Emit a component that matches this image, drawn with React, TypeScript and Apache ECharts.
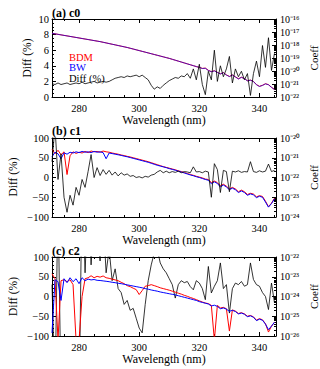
import React, { useEffect, useRef } from "react";
import * as echarts from "echarts";

const FONT = "Liberation Serif";

// Wavelength grid (nm)
const wavelength = [
  271, 272, 273, 274, 275, 276, 277, 278, 279, 280,
  281, 282, 283, 284, 285, 286, 287, 288, 289, 290,
  291, 292, 293, 294, 295, 296, 297, 298, 299, 300,
  301, 302, 303, 304, 305, 306, 307, 308, 309, 310,
  311, 312, 313, 314, 315, 316, 317, 318, 319, 320,
  321, 322, 323, 324, 325, 326, 327, 328, 329, 330,
  331, 332, 333, 334, 335, 336, 337, 338, 339, 340,
  341, 342, 343, 344, 345,
];

const xMajorTicks = [280, 300, 320, 340];
const xMinorTicks = [275, 285, 290, 295, 305, 310, 315, 325, 330, 335, 345];

// Coefficients are given as log10(Coeff)
// Panel (a) c0
const bdmA = [
  -17.10, -17.14, -17.18, -17.22, -17.26, -17.30, -17.34, -17.38, -17.42, -17.46,
  -17.50, -17.54, -17.58, -17.62, -17.66, -17.70, -17.74, -17.79, -17.84, -17.89,
  -17.94, -17.99, -18.04, -18.09, -18.14, -18.19, -18.25, -18.31, -18.37, -18.43,
  -18.49, -18.55, -18.61, -18.67, -18.73, -18.79, -18.85, -18.91, -18.97, -19.03,
  -19.10, -19.17, -19.24, -19.31, -19.38, -19.45, -19.52, -19.59, -19.66, -19.72,
  -19.80, -19.78, -19.95, -20.05, -19.98, -20.10, -20.22, -20.12, -20.30, -20.42,
  -20.30, -20.45, -20.60, -20.48, -20.58, -20.75, -20.70, -20.80, -21.05, -21.18,
  -21.10, -20.98, -21.05, -21.25, -21.42,
];
const bwA = [
  -17.10, -17.14, -17.18, -17.22, -17.26, -17.30, -17.34, -17.38, -17.42, -17.46,
  -17.50, -17.54, -17.58, -17.62, -17.66, -17.70, -17.74, -17.79, -17.84, -17.89,
  -17.94, -17.99, -18.04, -18.09, -18.14, -18.19, -18.25, -18.31, -18.37, -18.43,
  -18.49, -18.55, -18.61, -18.67, -18.73, -18.79, -18.85, -18.91, -18.97, -19.03,
  -19.10, -19.17, -19.24, -19.31, -19.38, -19.45, -19.52, -19.59, -19.66, -19.72,
  -19.81, -19.79, -19.96, -20.06, -19.99, -20.11, -20.23, -20.13, -20.31, -20.43,
  -20.31, -20.46, -20.61, -20.49, -20.59, -20.76, -20.71, -20.81, -21.06, -21.19,
  -21.11, -20.99, -21.06, -21.26, -21.43,
];
const diffA = [
  1.7, 1.6, 1.8, 1.6, 1.7, 1.8, 1.6, 1.7, 1.8, 1.7,
  1.9, 1.7, 1.8, 1.9, 2.0, 1.8, 1.9, 2.0, 1.9, 2.0,
  2.2, 2.4, 2.5, 2.6, 2.5, 2.7, 2.6, 2.7, 2.8, 2.6,
  2.8, 2.5, 2.2, 1.5, 1.0, 1.3, 1.1, 1.5, 1.8, 2.1,
  2.3, 2.5, 2.4, 2.7, 2.6, 3.0, 2.4, 3.6, 2.2, 4.2,
  1.6, 0.3, 3.3, 2.2, 6.0, 2.0, 4.0, 2.6, 3.6, 5.2,
  1.8, 3.6, 2.6, 3.3, 2.2, 3.0, 0.2, 3.0, 4.6, 2.6,
  6.6, 3.8, 7.6, 3.4, 5.6,
];

// Panel (b) c1
const bdmB = [
  -20.56, -20.80, -20.62, -20.85, -20.70, -21.85, -20.90, -20.70, -20.78, -20.72,
  -20.76, -20.68, -20.74, -20.66, -20.70, -20.68, -20.72, -20.66, -20.70, -20.72,
  -20.76, -20.79, -20.82, -20.86, -20.89, -20.93, -20.96, -21.00, -21.04, -21.08,
  -21.12, -21.16, -21.20, -21.25, -21.30, -21.35, -21.40, -21.45, -21.49, -21.53,
  -21.57, -21.61, -21.66, -21.70, -21.75, -21.80, -21.85, -21.89, -21.94, -21.98,
  -22.02, -22.08, -22.10, -22.26, -22.18, -22.26, -22.42, -22.34, -22.44, -22.58,
  -22.50, -22.58, -22.72, -22.64, -22.72, -22.86, -22.80, -22.84, -22.98, -22.92,
  -22.96, -23.20, -23.48, -23.30, -23.05,
];
const bwB = [
  -20.95, -20.72, -20.80, -21.05, -20.75, -20.82, -20.72, -20.76, -20.70, -20.74,
  -20.68, -20.72, -20.70, -20.74, -20.68, -20.72, -20.70, -20.74, -21.05, -20.76,
  -20.79, -20.82, -20.85, -20.88, -20.92, -20.95, -20.99, -21.03, -21.07, -21.11,
  -21.15, -21.19, -21.23, -21.28, -21.33, -21.38, -21.42, -21.46, -21.50, -21.55,
  -21.59, -21.63, -21.68, -21.72, -21.77, -21.82, -21.87, -21.91, -21.96, -22.00,
  -22.05, -22.10, -22.14, -22.32, -22.22, -22.30, -22.48, -22.38, -22.48, -22.62,
  -22.54, -22.62, -22.76, -22.68, -22.76, -22.90, -22.83, -22.88, -23.02, -22.95,
  -23.00, -23.24, -23.50, -23.32, -23.08,
];
const diffB = [
  40, 130, -5, 60, -50, -88, -45, -70, -25, -45,
  -5, -25, 15, 58, 0, 25, 5, 20, 8, 18,
  6, 14, 4, 12, 6, 9, 3, 5, 0, 2,
  -1, 3, 1, 6, 8, 14, 18, 12, 16, 12,
  15, 13, 16, 12, 15, 14, 12, 27, 14, 15,
  12, 16, 14, -50, 35, 20, -38, 18, 15, -36,
  16, 14, 17, 13, 15, 14, 40, 15, 13, 17,
  14, 16, 34, 15, 18,
];

// Panel (c) c2
const bdmC = [
  -22.85, -23.10, -26.20, -23.20, -23.15, -23.25, -23.15, -23.40, -26.20, -26.20,
  -24.00, -23.10, -23.05, -22.95, -23.05, -22.98, -23.02, -22.96, -23.05, -23.08,
  -23.12, -23.16, -23.20, -23.28, -23.35, -23.45, -23.50, -23.58, -23.65, -23.90,
  -23.70, -23.48, -23.45, -23.40, -23.45, -23.50, -23.56, -23.60, -23.64, -23.68,
  -23.73, -23.78, -23.83, -23.88, -23.94, -23.99, -24.05, -24.10, -24.16, -24.22,
  -24.28, -24.33, -24.36, -24.45, -26.20, -24.45, -24.58, -24.55, -24.62, -25.75,
  -24.68, -24.74, -24.86, -24.82, -24.88, -25.00, -24.96, -25.03, -25.20, -25.12,
  -25.18, -25.38, -25.80, -25.50, -25.30,
];
const bwC = [
  -25.85, -23.15, -23.25, -24.20, -23.10, -23.30, -23.05, -23.25, -23.10, -23.35,
  -23.05, -23.20, -23.12, -23.16, -23.14, -23.18, -23.19, -23.21, -23.23, -23.25,
  -23.28, -23.30, -23.33, -23.35, -23.38, -23.41, -23.44, -23.47, -23.50, -23.53,
  -23.56, -23.60, -23.63, -23.67, -23.70, -23.73, -23.77, -23.80, -23.83, -23.86,
  -23.89, -23.92, -23.96, -24.00, -24.04, -24.08, -24.12, -24.16, -24.20, -24.26,
  -24.30, -24.34, -24.38, -24.48, -24.44, -24.50, -24.62, -24.58, -24.64, -24.75,
  -24.70, -24.76, -24.88, -24.84, -24.90, -25.02, -24.98, -25.05, -25.22, -25.15,
  -25.20, -25.40, -25.68, -25.50, -25.30,
];
const diffC = [
  30, -250, 250, -250, -300, -300, -300, -300, -300, -300,
  300, 60, 250, 80, 200, 150, 90, 200, 60, 120,
  40, 70, 20, 10, -20, -10, -35, -30, -55, -80,
  -92, -20, 40, 80, 110, 120, 85, 70, 60, 45,
  30, -4, 30, 40, 35, 38, 25, 17, 40, 34,
  20, -8, 76, 9, 26, 40, 85, 20, 30, -42,
  20, 34, 30, 38, 26, 30, 85, 43, 30, 26,
  10, 0, -33, 34, -16,
];

const panelTitles = ["(a) c0", "(b) c1", "(c) c2"];
const diffRanges = [
  { min: 0, max: 10, interval: 2, minor: 4 },
  { min: -100, max: 100, interval: 50, minor: 5 },
  { min: -100, max: 100, interval: 50, minor: 5 },
];
// decade exponents of the right (Coeff) axis
const coeffDecades = [
  { lo: -22, hi: -16 },
  { lo: -24, hi: -20 },
  { lo: -26, hi: -22 },
];
const legendItems = [
  { text: "BDM", color: "#ff0000" },
  { text: "BW", color: "#0000ff" },
  { text: "Diff (%)", color: "#000000" },
];

const grids = [
  { top: 19, height: 78 },
  { top: 138, height: 79 },
  { top: 257, height: 79 },
];

const SUP: Record<string, string> = {
  "0": "\u2070", "1": "\u00b9", "2": "\u00b2", "3": "\u00b3", "4": "\u2074",
  "5": "\u2075", "6": "\u2076", "7": "\u2077", "8": "\u2078", "9": "\u2079",
};
const supExp = (e: number) =>
  (e < 0 ? "\u207b" : "") + String(Math.abs(e)).split("").map((c) => SUP[c]).join("");

export default function App() {
  const ref = useRef<HTMLDivElement>(null);
  useEffect(() => {
    if (!ref.current) return;
    const chart = echarts.init(ref.current, null, { renderer: "svg" });

    const linePairs = (vals: number[]) => wavelength.map((w, i) => [w, vals[i]]);

    const xAxes: any[] = [];
    const yAxes: any[] = [];
    const series: any[] = [];
    const black = "#000";

    grids.forEach((g, gi) => {
      const baseX = {
        gridIndex: gi,
        type: "value",
        min: 271,
        max: 345.5,
        splitLine: { show: false },
      };
      xAxes.push({
        ...baseX,
        position: "bottom",
        axisLine: { show: true, onZero: false, lineStyle: { color: black, width: 1 } },
        axisTick: { show: true, inside: true, length: 4, customValues: xMajorTicks, lineStyle: { color: black } },
        axisLabel: {
          show: true,
          customValues: xMajorTicks,
          margin: 6,
          color: black,
          fontSize: 10.5,
          fontFamily: FONT,
        },
      });
      xAxes.push({
        ...baseX,
        position: "bottom",
        axisLine: { show: false, onZero: false },
        axisTick: { show: true, inside: true, length: 2, customValues: xMinorTicks, lineStyle: { color: black } },
        axisLabel: { show: false },
      });
      xAxes.push({
        ...baseX,
        position: "top",
        axisLine: { show: true, onZero: false, lineStyle: { color: black, width: 1 } },
        axisTick: { show: true, inside: true, length: 4, customValues: xMajorTicks, lineStyle: { color: black } },
        axisLabel: { show: false },
      });
      xAxes.push({
        ...baseX,
        position: "top",
        axisLine: { show: false, onZero: false },
        axisTick: { show: true, inside: true, length: 2, customValues: xMinorTicks, lineStyle: { color: black } },
        axisLabel: { show: false },
      });

      const dr = diffRanges[gi];
      yAxes.push({
        gridIndex: gi,
        type: "value",
        position: "left",
        min: dr.min,
        max: dr.max,
        interval: dr.interval,
        axisLine: { show: true, onZero: false, lineStyle: { color: black, width: 1 } },
        axisTick: { show: true, inside: true, length: 4, lineStyle: { color: black } },
        minorTick: { show: true, splitNumber: dr.minor, length: 2, lineStyle: { color: black } },
        splitLine: { show: false },
        minorSplitLine: { show: false },
        axisLabel: {
          margin: 3,
          color: black,
          fontSize: 10.5,
          fontFamily: FONT,
          showMinLabel: true,
          showMaxLabel: true,
          formatter: (v: number) => String(v).replace("-", "\u2212"),
        },
      });
      // right axis: decades of Coeff (values are log10 of the coefficient)
      const cd = coeffDecades[gi];
      const minors: number[] = [];
      for (let e = cd.lo; e < cd.hi; e++) {
        for (let m = 2; m <= 9; m++) minors.push(e + Math.log10(m));
      }
      const baseLog = {
        gridIndex: gi,
        type: "value",
        position: "right",
        min: cd.lo,
        max: cd.hi,
        interval: 1,
        splitLine: { show: false },
      };
      yAxes.push({
        ...baseLog,
        axisLine: { show: true, onZero: false, lineStyle: { color: black, width: 1 } },
        axisTick: { show: true, inside: true, length: 4, lineStyle: { color: black } },
        axisLabel: {
          margin: 4,
          color: black,
          fontSize: 10,
          fontFamily: FONT,
          showMinLabel: true,
          showMaxLabel: true,
          formatter: (v: number) => "10" + supExp(Math.round(v)),
        },
      });
      yAxes.push({
        ...baseLog,
        axisLine: { show: false, onZero: false },
        axisTick: { show: true, inside: true, length: 2, customValues: minors, lineStyle: { color: black } },
        axisLabel: { show: false },
      });
    });

    const coeffSets = [
      [bdmA, bwA, diffA],
      [bdmB, bwB, diffB],
      [bdmC, bwC, diffC],
    ];
    coeffSets.forEach(([bdm, bw, diff], gi) => {
      const diffSeries = {
        type: "line",
        name: "Diff (%) " + gi,
        xAxisIndex: gi * 4,
        yAxisIndex: gi * 3,
        data: linePairs(diff),
        showSymbol: false,
        symbol: "none",
        lineStyle: { color: black, width: 0.8 },
        clip: true,
        z: 2,
      };
      if (gi === 2) series.push(diffSeries);
      series.push({
        type: "line",
        name: "BDM " + gi,
        xAxisIndex: gi * 4,
        yAxisIndex: gi * 3 + 1,
        data: linePairs(bdm),
        showSymbol: false,
        symbol: "none",
        lineStyle: { color: "#ff0000", width: 1 },
        clip: true,
        z: 2,
      });
      series.push({
        type: "line",
        name: "BW " + gi,
        xAxisIndex: gi * 4,
        yAxisIndex: gi * 3 + 1,
        data: linePairs(bw),
        showSymbol: false,
        symbol: "none",
        lineStyle: { color: "#0000ff", width: 1, opacity: gi === 0 ? 0.65 : 1 },
        clip: true,
        z: 2,
      });
      if (gi !== 2) series.push(diffSeries);
    });

    const graphics: any[] = [];
    const titleYs = [12.5, 131, 250.5];
    panelTitles.forEach((t, i) => {
      graphics.push({
        type: "text",
        x: 52,
        y: titleYs[i],
        style: { text: t, fill: black, fontSize: 12, fontWeight: "bold", fontFamily: FONT, align: "left", verticalAlign: "middle" },
      });
    });
    const wlYs = [119.5, 239.5, 358.5];
    wlYs.forEach((y) => {
      graphics.push({
        type: "text",
        x: 164,
        y,
        style: { text: "Wavelength (nm)", fill: black, fontSize: 12, fontFamily: FONT, align: "center", verticalAlign: "middle" },
      });
    });
    const diffLabelPos = [
      { x: 27, y: 58 },
      { x: 13, y: 177 },
      { x: 13, y: 296.5 },
    ];
    diffLabelPos.forEach((p) => {
      graphics.push({
        type: "text",
        x: p.x,
        y: p.y,
        rotation: Math.PI / 2,
        style: { text: "Diff (%)", fill: black, fontSize: 11.5, fontFamily: FONT, align: "center", verticalAlign: "middle" },
      });
    });
    const coeffLabelPos = [
      { x: 314, y: 58 },
      { x: 314, y: 177.5 },
      { x: 314, y: 296.5 },
    ];
    coeffLabelPos.forEach((p) => {
      graphics.push({
        type: "text",
        x: p.x,
        y: p.y,
        rotation: Math.PI / 2,
        style: { text: "Coeff", fill: black, fontSize: 11, fontFamily: FONT, align: "center", verticalAlign: "middle" },
      });
    });
    const legendYs = [57, 67.5, 78.5];
    legendItems.forEach((it, i) => {
      graphics.push({
        type: "text",
        x: 69,
        y: legendYs[i],
        z: 10,
        style: { text: it.text, fill: it.color, fontSize: 10.5, fontFamily: FONT, align: "left", verticalAlign: "middle" },
      });
    });

    chart.setOption({
      animation: false,
      backgroundColor: "#ffffff",
      grid: grids.map((g) => ({
        left: 52,
        top: g.top,
        width: 224,
        height: g.height,
        containLabel: false,
        outerBoundsMode: "none",
      })),
      xAxis: xAxes,
      yAxis: yAxes,
      series,
      graphic: graphics,
    });

    return () => chart.dispose();
  }, []);

  return (
    <div
      ref={ref}
      style={{ position: "fixed", left: 0, top: 0, width: 320, height: 369, background: "#fff" }}
    />
  );
}
